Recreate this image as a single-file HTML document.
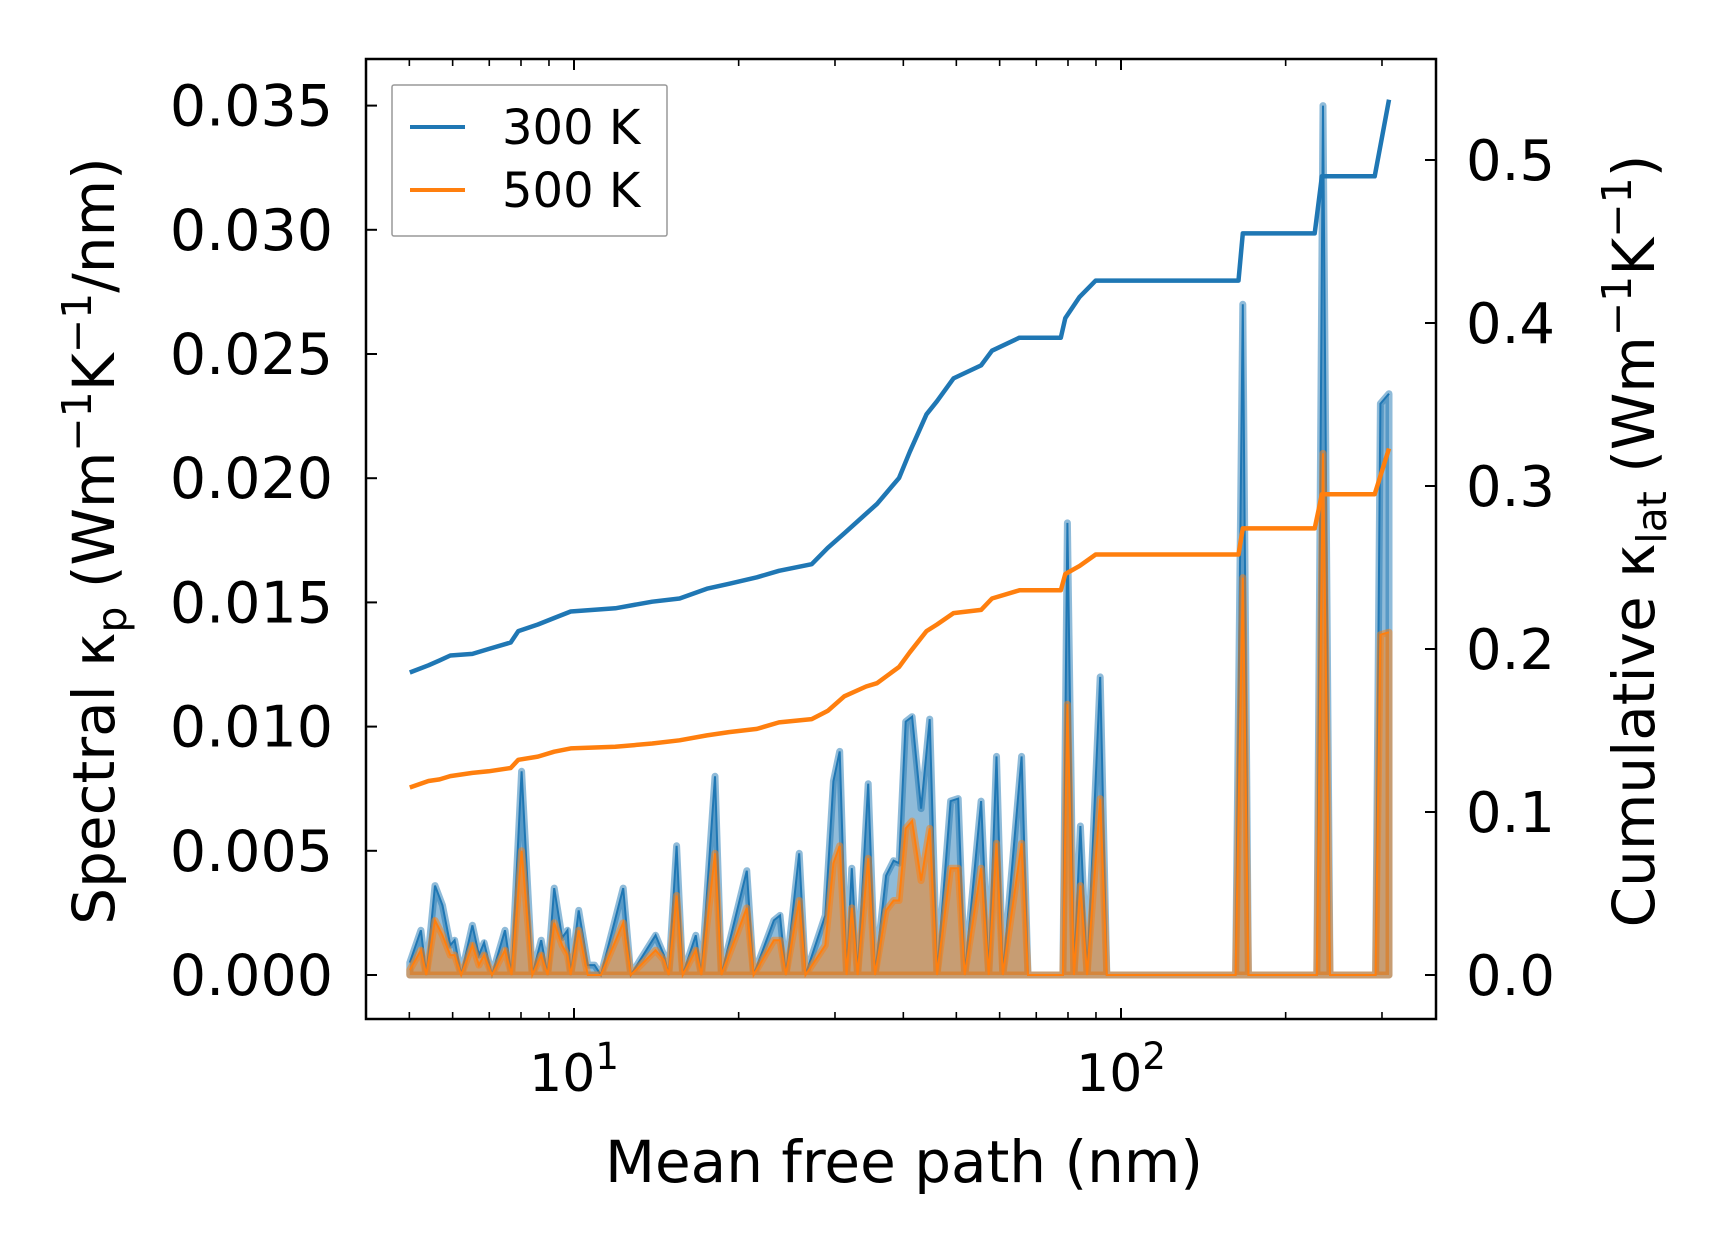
<!DOCTYPE html>
<html><head><meta charset="utf-8"><style>
html,body{margin:0;padding:0;background:#fff;}
svg{display:block;font-family:"DejaVu Sans","Liberation Sans",sans-serif;}
</style></head><body>
<svg id="chart" width="1716" height="1254" viewBox="0 0 1716 1254" xmlns="http://www.w3.org/2000/svg"></svg>
<script>
// cumulative curves
const cumX = [5.01,5.42,5.68,5.94,6.52,6.98,7.66,7.91,8.59,9.20,9.86,11.9,13.9,15.6,17.5,19.2,21.6,23.7,27.2,29.1,31.2,34.2,35.8,39.3,41.1,44.1,46.1,49.4,55.5,58.1,65.2,77.6,79.1,84.0,89.9,164,167,226,233,291,309];
const cum300 = [0.1856,0.19,0.193,0.196,0.197,0.2,0.204,0.211,0.215,0.219,0.223,0.225,0.229,0.231,0.237,0.24,0.244,0.248,0.252,0.262,0.271,0.283,0.289,0.305,0.321,0.344,0.352,0.366,0.374,0.383,0.391,0.391,0.403,0.416,0.426,0.426,0.455,0.455,0.49,0.49,0.537];
const cum500 = [0.115,0.119,0.12,0.122,0.124,0.125,0.127,0.132,0.134,0.137,0.139,0.14,0.142,0.144,0.147,0.149,0.151,0.155,0.157,0.162,0.171,0.177,0.179,0.189,0.198,0.211,0.215,0.222,0.224,0.231,0.236,0.236,0.246,0.251,0.258,0.258,0.274,0.274,0.295,0.295,0.323];
// spectral
const specX = [5.01,5.25,5.37,5.57,5.75,5.94,6.05,6.22,6.52,6.70,6.85,7.08,7.48,7.69,8.02,8.39,8.71,8.95,9.20,9.51,9.73,9.86,10.2,10.6,10.9,11.2,12.3,12.7,14.1,14.6,14.9,15.4,15.8,16.7,17.1,18.1,18.6,20.7,21.3,23.2,23.8,24.4,25.8,26.5,28.8,29.8,30.6,31.5,32.2,33.0,34.5,35.5,37.2,38.4,39.3,40.4,41.5,43.1,44.7,46.1,48.8,50.4,51.8,55.5,57.3,59.2,60.8,65.8,67.6,78.3,79.8,82.0,84.3,86.7,91.6,94.2,162,167,171,228,234,241,292,298,309];
const spec300 = [0.0005,0.0018,0,0.0036,0.0028,0.0012,0.0014,0,0.002,0.0008,0.0013,0,0.0018,0,0.0082,0,0.0014,0,0.0035,0.0015,0.0018,0,0.0026,0.0004,0.0004,0,0.0035,0,0.0016,0.0008,0,0.0052,0,0.0016,0,0.008,0,0.0042,0,0.0022,0.0024,0,0.0049,0,0.0024,0.0078,0.009,0,0.0043,0,0.0077,0,0.004,0.0046,0.0045,0.0102,0.0104,0.0067,0.0103,0,0.007,0.0071,0,0.007,0,0.0088,0,0.0088,0,0,0.0182,0,0.006,0,0.012,0,0,0.027,0,0,0.035,0,0,0.023,0.0234];
const spec500 = [0.0002,0.001,0,0.0022,0.0016,0.0008,0.0008,0,0.0012,0.0004,0.0008,0,0.001,0,0.005,0,0.0008,0,0.0021,0.0012,0.0008,0,0.0018,0,0,0,0.0021,0,0.001,0.0006,0,0.0032,0,0.001,0,0.0049,0,0.0027,0,0.0014,0.0014,0,0.003,0,0.0012,0.0045,0.0052,0,0.0027,0,0.0047,0,0.0026,0.003,0.003,0.0059,0.0062,0.0038,0.0059,0,0.0043,0.0043,0,0.0043,0,0.0053,0,0.0053,0,0,0.0109,0,0.0036,0,0.0071,0,0,0.016,0,0,0.021,0,0,0.0137,0.0138];
const leftTicks = [0,0.005,0.01,0.015,0.02,0.025,0.03,0.035];
const leftLabels = ["0.000","0.005","0.010","0.015","0.020","0.025","0.030","0.035"];
const rightTicks = [0,0.1,0.2,0.3,0.4,0.5];
const rightLabels = ["0.0","0.1","0.2","0.3","0.4","0.5"];
const xMajor = [10,100];
const xMinor = [5,6,7,8,9,20,30,40,50,60,70,80,90,200,300];

const L=366,R=1436,T=59,B=1019;
const X = v => 574 + (Math.log10(v)-1)*547;
const YL = v => 975 - v/0.005*124.2;
const YR = v => 975 - v/0.1*163;
const svg=document.getElementById('chart');
const NS='http://www.w3.org/2000/svg';
function mk(tag,attrs,parent){const e=document.createElementNS(NS,tag);for(const k in attrs)e.setAttribute(k,attrs[k]);(parent||svg).appendChild(e);return e;}

function specSeries(vals,color,name){
  const pts=specX.map((x,i)=>X(x).toFixed(1)+','+YL(vals[i]).toFixed(1));
  const area='M'+X(specX[0]).toFixed(1)+','+YL(0)+' L'+pts.join(' L')+' L'+X(specX[specX.length-1]).toFixed(1)+','+YL(0)+' Z';
  const a=mk('path',{d:area,fill:color,'fill-opacity':0.5,stroke:color,'stroke-opacity':0.5,'stroke-width':7,'stroke-linejoin':'round'});
  
  
  const l=mk('polyline',{points:pts.join(' '),fill:'none',stroke:color,'stroke-width':2});
  
  
}
specSeries(spec300,'#1f77b4','spectral-300k');
specSeries(spec500,'#ff7f0e','spectral-500k');

function cumLine(vals,color,name){
  const pts=cumX.map((x,i)=>X(x).toFixed(1)+','+YR(vals[i]).toFixed(1));
  const l=mk('polyline',{points:pts.join(' '),fill:'none',stroke:color,'stroke-width':4.5,'stroke-linejoin':'round'});
  
  
}
cumLine(cum300,'#1f77b4','cumulative-300k');
cumLine(cum500,'#ff7f0e','cumulative-500k');

const fr=mk('rect',{x:L,y:T,width:R-L,height:B-T,fill:'none',stroke:'#000','stroke-width':2.5});



leftTicks.forEach((v,i)=>{
  const y=YL(v);
  mk('line',{x1:L,x2:L+11,y1:y,y2:y,stroke:'#000','stroke-width':2});
  const t=mk('text',{x:333,y:y+20,'text-anchor':'end','font-size':57,fill:'#000'});
  t.textContent=leftLabels[i];
  
  
});
rightTicks.forEach((v,i)=>{
  const y=YR(v);
  mk('line',{x1:R-11,x2:R,y1:y,y2:y,stroke:'#000','stroke-width':2});
  const t=mk('text',{x:1466,y:y+20,'text-anchor':'start','font-size':56,fill:'#000'});
  t.textContent=rightLabels[i];
  
  
});
xMajor.forEach(v=>{
  const x=X(v);
  mk('line',{x1:x,x2:x,y1:B,y2:B-11,stroke:'#000','stroke-width':2});
  mk('line',{x1:x,x2:x,y1:T,y2:T+11,stroke:'#000','stroke-width':2});
  const t=mk('text',{x:x,y:1091,'text-anchor':'middle','font-size':52,fill:'#000'});
  t.innerHTML='10<tspan dy="-22" font-size="37">'+Math.round(Math.log10(v))+'</tspan>';
  
  
});
xMinor.forEach(v=>{
  const x=X(v);
  mk('line',{x1:x,x2:x,y1:B,y2:B-7,stroke:'#000','stroke-width':1.6});
  mk('line',{x1:x,x2:x,y1:T,y2:T+7,stroke:'#000','stroke-width':1.6});
});

let t=mk('text',{x:904,y:1182,'text-anchor':'middle','font-size':58,fill:'#000'});
t.textContent='Mean free path (nm)';


t=mk('text',{x:0,y:0,'text-anchor':'middle','font-size':58,fill:'#000',transform:'translate(114,541) rotate(-90)'});
t.innerHTML='Spectral κ<tspan dy="12" font-size="41">p</tspan><tspan dy="-12"> (Wm</tspan><tspan dy="-23" font-size="41">−1</tspan><tspan dy="23">K</tspan><tspan dy="-23" font-size="41">−1</tspan><tspan dy="23">/nm)</tspan>';


t=mk('text',{x:0,y:0,'text-anchor':'middle','font-size':58,fill:'#000',transform:'translate(1654,541) rotate(-90)'});
t.innerHTML='Cumulative κ<tspan dy="12" font-size="41">lat</tspan><tspan dy="-12"> (Wm</tspan><tspan dy="-23" font-size="41">−1</tspan><tspan dy="23">K</tspan><tspan dy="-23" font-size="41">−1</tspan><tspan dy="23">)</tspan>';



const lg=mk('g',{});


mk('rect',{x:392,y:85,width:275,height:151,fill:'#fff','fill-opacity':0.8,stroke:'#999','stroke-width':1.5,rx:2},lg);
[['300 K','#1f77b4',127],['500 K','#ff7f0e',190]].forEach(([lab,c,y])=>{
  const g=mk('g',{},lg);
  
  
  mk('line',{x1:410,x2:465,y1:y,y2:y,stroke:c,'stroke-width':4},g);
  const tx=mk('text',{x:502,y:y+17,'font-size':48,fill:'#000'},g);
  tx.textContent=lab;
});
</script>
</body></html>
